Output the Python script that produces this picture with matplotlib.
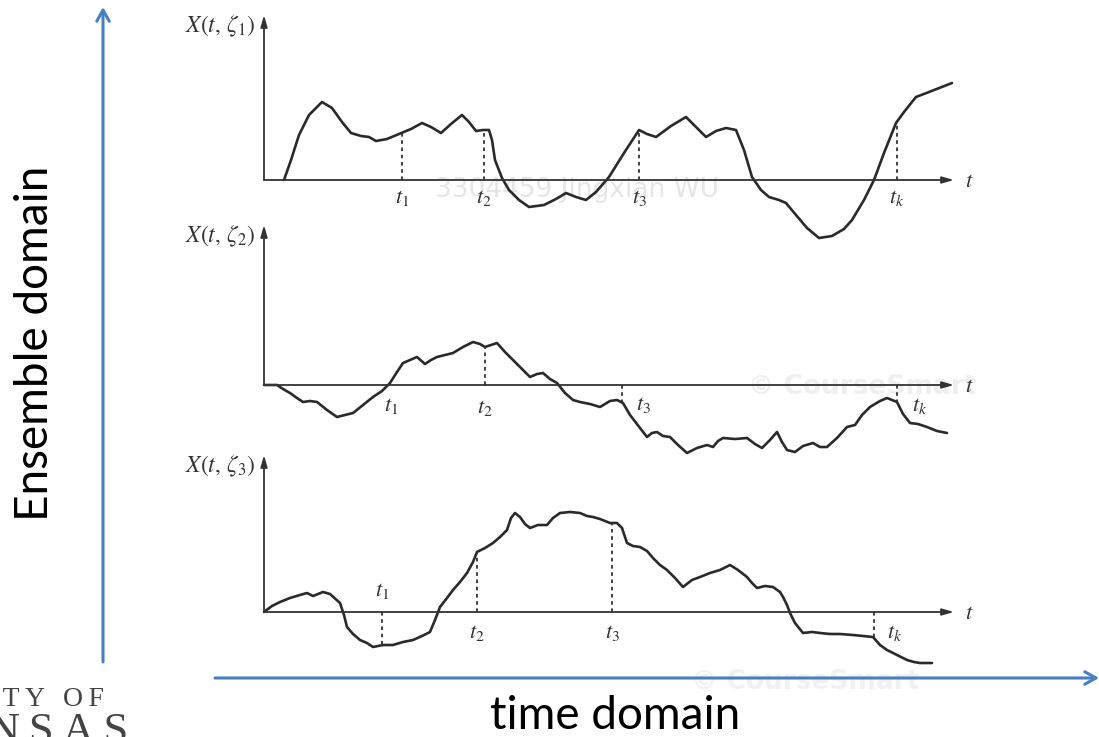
import matplotlib.pyplot as plt
import numpy as np

plt.rcParams["mathtext.fontset"] = "stix"

W, H = 1099, 737

# sample functions, t and X measured in pixels from each panel's origin
t_z1 = [20, 27, 35, 45, 58, 68, 78, 87, 97, 105, 112, 123, 135, 147, 158, 167, 177, 187, 198, 205,
        212, 219, 225, 228, 231, 238, 245, 255, 265, 280, 292, 302, 312, 322, 332, 345, 360, 375,
        383, 392, 407, 422, 432, 442, 452, 462, 472, 480, 488, 497, 505, 515, 522, 532, 543, 555,
        568, 580, 588, 600, 610, 620, 632, 640, 652, 665, 688]
x_z1 = [0, 20, 45, 65, 78, 72, 58, 47, 44, 43, 39, 41, 46, 51, 57, 53, 47, 56, 65, 58,
        49, 50, 50, 40, 20, 2, -10, -20, -27, -25, -19, -13, -17, -20, -12, 3, 27, 50,
        46, 43, 54, 63, 53, 43, 49, 52, 50, 30, 3, -10, -17, -20, -23, -35, -48, -58,
        -56, -49, -40, -20, 0, 27, 57, 68, 83, 88, 97]

t_z2 = [0, 13, 19, 26, 33, 39, 46, 53, 63, 73, 81, 89, 99, 109, 118, 126, 133, 139, 146, 153,
        161, 167, 173, 181, 189, 199, 209, 216, 221, 227, 233, 241, 249, 258, 266, 273, 279, 286,
        293, 301, 309, 316, 326, 336, 346, 353, 359, 366, 376, 383, 388, 393, 399, 406, 414, 423,
        433, 443, 449, 454, 459, 471, 483, 491, 498, 506, 513, 518, 523, 531, 539, 549, 556, 563,
        573, 583, 591, 598, 606, 616, 623, 633, 639, 646, 654, 663, 673, 683]
x_z2 = [0, 0, -4, -8, -13, -17, -16, -17, -25, -32, -30, -28, -20, -12, -6, 2, 13, 22, 25, 28,
        21, 25, 28, 30, 32, 38, 43, 41, 38, 40, 42, 33, 25, 16, 8, 11, 12, 6,
        2, -8, -15, -17, -19, -22, -16, -15, -18, -30, -43, -52, -48, -47, -51, -52, -60, -68,
        -63, -60, -62, -56, -53, -54, -53, -59, -63, -55, -47, -57, -65, -67, -61, -58, -62, -62,
        -53, -42, -40, -30, -22, -16, -13, -17, -29, -38, -39, -42, -46, -48]

t_z3 = [0, 8, 16, 26, 36, 43, 49, 59, 66, 76, 80, 83, 89, 96, 103, 109, 119, 129, 139, 149,
        158, 166, 171, 176, 183, 189, 196, 203, 209, 213, 221, 229, 236, 243, 247, 251, 256, 261,
        266, 274, 283, 289, 296, 306, 316, 323, 329, 336, 346, 353, 358, 363, 369, 376, 383, 389,
        396, 403, 411, 419, 428, 436, 446, 456, 466, 474, 483, 488, 493, 501, 509, 516, 519, 523,
        526, 531, 539, 548, 556, 566, 576, 589, 599, 609, 616, 623, 631, 643, 650, 656, 668]
x_z3 = [0, 6, 10, 14, 17, 19, 16, 20, 18, 9, -3, -15, -22, -28, -31, -35, -33, -33, -30, -28,
        -24, -20, -8, 5, 14, 22, 30, 39, 50, 60, 64, 69, 75, 82, 94, 99, 95, 88,
        84, 87, 87, 94, 99, 100, 99, 96, 95, 93, 89, 89, 84, 69, 66, 65, 61, 54,
        47, 42, 34, 25, 32, 35, 39, 42, 47, 42, 35, 29, 24, 26, 25, 20, 15, 7,
        -1, -11, -21, -20, -21, -22, -22, -23, -24, -25, -33, -38, -42, -48, -50, -51, -51]

# sampling instants t1, t2, t3, tk for each sample function
marks_z1 = [138, 220, 375, 633]
marks_z2 = [126, 221, 358, 633]
marks_z3 = [118, 213, 348, 610]
mark_names = [r"$t_1$", r"$t_2$", r"$t_3$", r"$t_k$"]
panel_names = [r"$X(t,\,\zeta_1)$", r"$X(t,\,\zeta_2)$", r"$X(t,\,\zeta_3)$"]

panels = [
    dict(t=t_z1, x=x_z1, marks=marks_z1, origin=(264, 180), top=165,
         lab=[(0, -18), (0, -18), (0, -18), (0, -18)], dash=[True, True, True, True]),
    dict(t=t_z2, x=x_z2, marks=marks_z2, origin=(264, 385), top=160,
         lab=[(1, -21), (0, -23), (21, -20), (23, -21)], dash=[False, True, True, True]),
    dict(t=t_z3, x=x_z3, marks=marks_z3, origin=(264, 612), top=157,
         lab=[(0, 21), (0, -21), (0, -21), (21, -21)], dash=[True, True, True, True]),
]

fig = plt.figure(figsize=(W / 100, H / 100), dpi=100)

# background axes in pixel coordinates for the decorations
bg = fig.add_axes([0, 0, 1, 1])
bg.set_xlim(0, W)
bg.set_ylim(H, 0)
bg.axis("off")

bg.text(577, 190, "3304459 Jingxian WU", color="#e6e6e6", fontsize=19, ha="center", va="center", zorder=0)
bg.text(862, 387, "\u00a9 CourseSmart", color="#efefef", fontsize=19, ha="center", va="center",
        fontweight="bold", zorder=0)
bg.text(805, 682, "\u00a9 CourseSmart", color="#f1f1f1", fontsize=19, ha="center", va="center",
        fontweight="bold", zorder=0)

blue = "#4a7ec2"
bg.annotate("", xy=(103, 7), xytext=(103, 662),
            arrowprops=dict(arrowstyle="->,head_length=0.8,head_width=0.45", color=blue, lw=2.2,
                            shrinkA=0, shrinkB=0))
bg.annotate("", xy=(1099, 678), xytext=(215, 678),
            arrowprops=dict(arrowstyle="->,head_length=0.8,head_width=0.45", color=blue, lw=2.2,
                            shrinkA=0, shrinkB=0))

bg.text(35, 343, "Ensemble domain", rotation=90, fontsize=33, family="Lato",
        ha="center", va="center")
bg.text(615, 716, "time domain", fontsize=33, family="Lato", ha="center", va="center")

bg.text(104, 700, "\u2009".join("UNIVERSITY OF"), fontsize=20, family="Liberation Serif",
        color="#444444", ha="right", va="center")
bg.text(128, 752, "\u2009".join("KANSAS"), fontsize=32, family="Liberation Serif", color="#444444",
        ha="right", va="bottom")

ink = "#333333"
for i, p in enumerate(panels):
    ox, oy = p["origin"]
    ax = fig.add_axes([0, 0, 1, 1])
    ax.set_xlim(-ox, W - ox)
    ax.set_ylim(-(H - oy), oy)
    ax.axis("off")
    ax.patch.set_alpha(0)

    # axes with arrows
    ax.annotate("", xy=(690, 0), xytext=(0, 0),
                arrowprops=dict(arrowstyle="-|>,head_length=0.7,head_width=0.2", color=ink, lw=1.3,
                                shrinkA=0, shrinkB=0))
    ax.annotate("", xy=(0, p["top"]), xytext=(0, 0),
                arrowprops=dict(arrowstyle="-|>,head_length=0.7,head_width=0.2", color=ink, lw=1.3,
                                shrinkA=0, shrinkB=0))
    ax.text(705, -1, r"$t$", fontsize=16, ha="center", va="center", color=ink)
    ax.text(-8, p["top"] - 11, panel_names[i], fontsize=17, ha="right", va="center", color=ink)

    ax.plot(p["t"], p["x"], color="#2a2a2a", lw=1.9, solid_joinstyle="round", solid_capstyle="round")

    for k, tm in enumerate(p["marks"]):
        xv = np.interp(tm, p["t"], p["x"])
        if p["dash"][k]:
            ax.plot([tm, tm], [0, xv], color=ink, lw=1.3, ls=(0, (2, 2)))
        dx, dy = p["lab"][k]
        ax.text(tm + dx, dy, mark_names[k], fontsize=16, ha="center", va="center", color=ink)

fig.savefig("out.png", dpi=100)
